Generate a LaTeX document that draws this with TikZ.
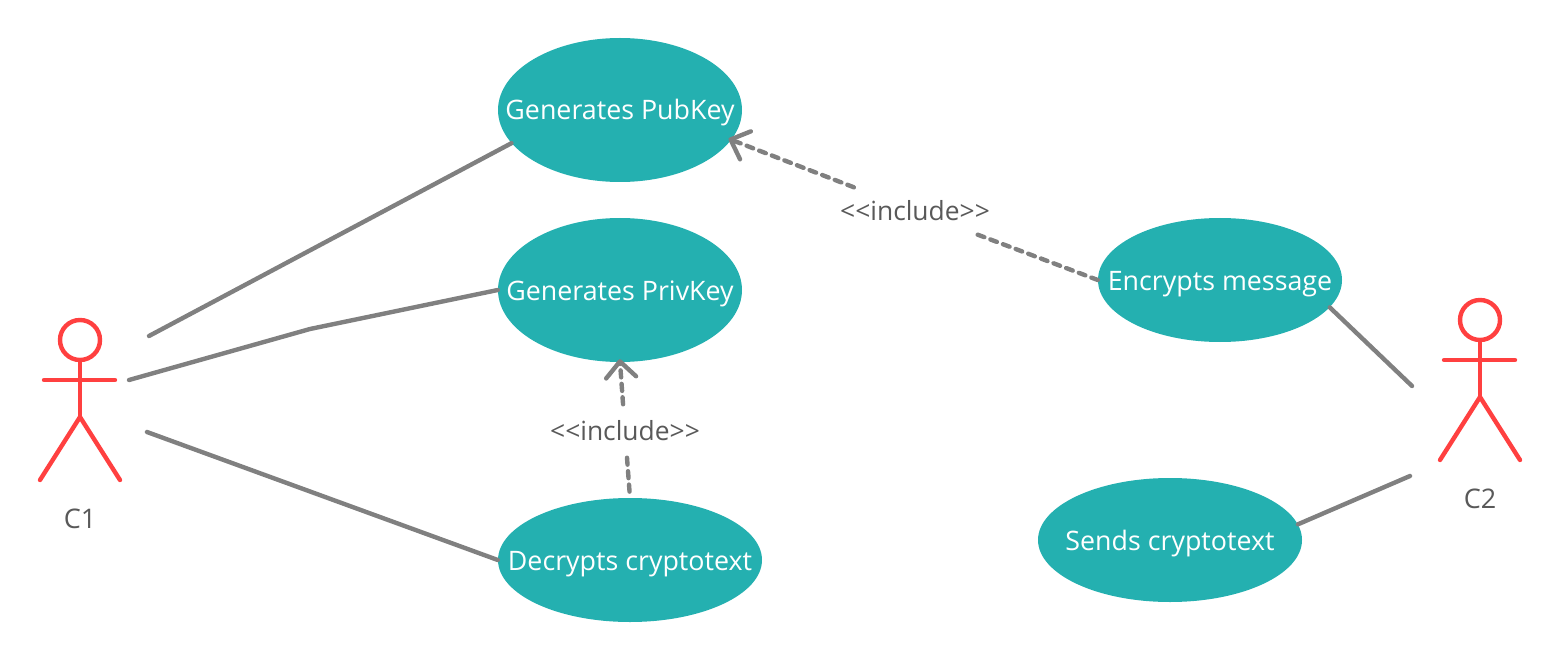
\documentclass[tikz,border=0pt]{standalone}
\usepackage{fontspec}
\setmainfont{Open Sans}
\usetikzlibrary{shapes.geometric,arrows.meta}
\definecolor{tealfill}{HTML}{24B0B0}
\definecolor{actorred}{HTML}{FF4040}
\definecolor{linegray}{HTML}{808080}
\definecolor{labelgray}{HTML}{595959}
\newcommand{\casetext}[1]{\raisebox{-10pt}[0pt][0pt]{\makebox[0pt][c]{#1}}}
\tikzset{
  usecase/.style={ellipse,fill=tealfill,text=white,inner sep=0pt,font=\fontsize{26.8}{30}\selectfont},
  smallcase/.style={usecase,minimum width=264pt,minimum height=124pt},
  bigcase/.style={usecase,minimum width=244pt,minimum height=144pt},
  midcase/.style={usecase,minimum width=244pt,minimum height=124pt},
  assoc/.style={draw=linegray,line width=4.4pt,line cap=round,line join=round},
  incl/.style={draw=linegray,line width=4.4pt,line cap=round,dash pattern=on 7pt off 6.5pt},
  inclhead/.style={-{Straight Barb[length=16pt,width=30pt,line width=4.4pt,round]}},
  incllabel/.style={text=labelgray,inner sep=0pt,minimum width=150pt,font=\fontsize{26.4}{30}\selectfont},
  actorline/.style={draw=actorred,line width=4.4pt,line cap=round,line join=round},
  actorlabel/.style={text=labelgray,inner sep=0pt,font=\fontsize{27}{30}\selectfont},
}
\begin{document}
\begin{tikzpicture}[x=1pt,y=-1pt]
\useasboundingbox (0,0) rectangle (1560,660);
% use cases
\node[bigcase] (pub) at (620,110) {\casetext{Generates PubKey}};
\node[bigcase] (priv) at (620,290) {\casetext{Generates PrivKey}};
\node[smallcase] (dec) at (630,560) {\casetext{Decrypts cryptotext}};
\node[midcase] (enc) at (1220,280) {\casetext{Encrypts message}};
\node[smallcase] (send) at (1170,540) {\casetext{Sends cryptotext}};
% include labels
\node[incllabel,minimum height=47pt] (inc1) at (915,211) {<{}<include>{}>};
\node[incllabel,minimum height=53pt] (inc2) at (625,431) {<{}<include>{}>};
% free ends
\coordinate (c1a) at (149,336);
\coordinate (c1b) at (129,380);
\coordinate (c1bend) at (310,329);
\coordinate (c1c) at (147,432);
\coordinate (c2a) at (1412,386);
\coordinate (c2b) at (1410,476);
% associations
\draw[assoc] (c1a) -- (pub.197);
\draw[assoc] (c1b) -- (c1bend) -- (priv.west);
\draw[assoc] (c1c) -- (dec.west);
\draw[assoc] (c2a) -- (enc.-14);
\draw[assoc] (c2b) -- (send.7);
% includes
\draw[incl] (inc1) -- (enc.west);
\draw[incl,inclhead,shorten >=-3pt] (inc1) -- (pub.-15);
\draw[incl] (inc2) -- (dec.north);
\draw[incl,inclhead,shorten >=-3pt] (inc2) -- (priv.south);
% actor C1
\node[circle,draw=actorred,line width=4.4pt,minimum size=40pt,inner sep=0pt] (h1) at (80,340) {};
\coordinate (hip1) at (80,417);
\coordinate (al1) at (44,380);
\coordinate (ar1) at (115,380);
\coordinate (ll1) at (40,480);
\coordinate (lr1) at (120,480);
\draw[actorline] (h1.south) -- (hip1);
\draw[actorline] (al1) -- (ar1);
\draw[actorline] (ll1) -- (hip1) -- (lr1);
\node[actorlabel] (c1) at (80,519) {C1};
% actor C2
\node[circle,draw=actorred,line width=4.4pt,minimum size=40pt,inner sep=0pt] (h2) at (1480,320) {};
\coordinate (hip2) at (1480,397);
\coordinate (al2) at (1444,360);
\coordinate (ar2) at (1515,360);
\coordinate (ll2) at (1440,460);
\coordinate (lr2) at (1520,460);
\draw[actorline] (h2.south) -- (hip2);
\draw[actorline] (al2) -- (ar2);
\draw[actorline] (ll2) -- (hip2) -- (lr2);
\node[actorlabel] (c2) at (1480,499) {C2};
\end{tikzpicture}
\end{document}
